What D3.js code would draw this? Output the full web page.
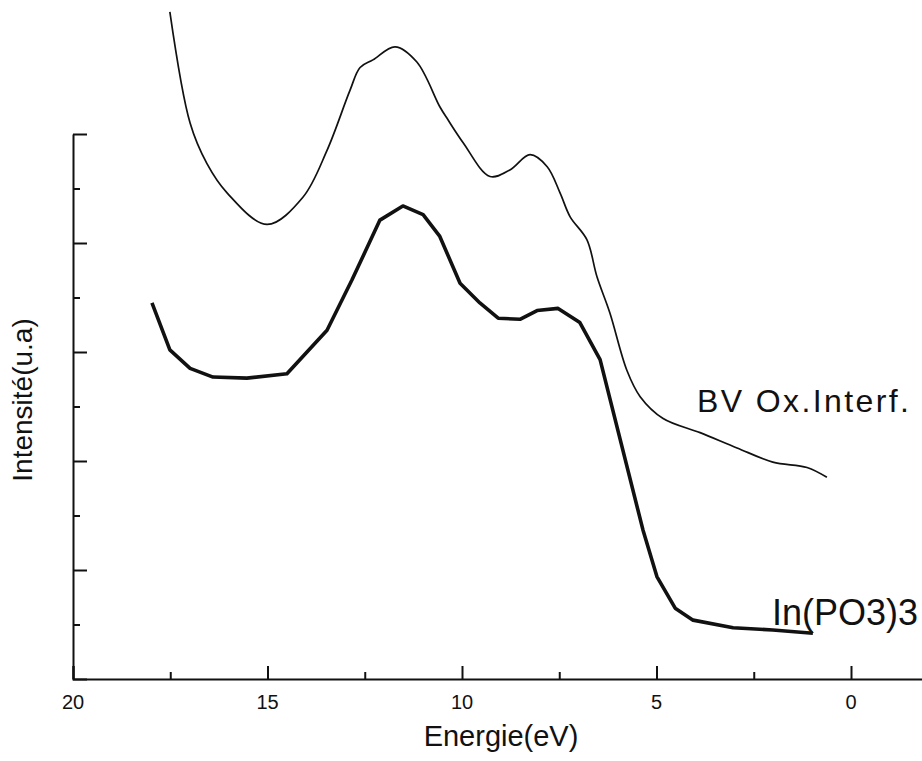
<!DOCTYPE html>
<html>
<head>
<meta charset="utf-8">
<script src="https://cdn.jsdelivr.net/npm/d3@7"></script>
<style>
  body { margin: 0; background: #fff; }
  text { font-family: "Liberation Sans", Arial, sans-serif; fill: #111; }
</style>
</head>
<body>
<div id="chart"></div>
<script>
const width = 922;
const height = 761;

// energies (eV) and intensities (arb. units)
const bvEnergy = [17.51, 16.99, 16.56, 16.04, 15.01, 14.09, 13.47, 12.88, 12.62, 12.29, 11.72, 11.16, 10.57, 10.36, 9.97, 9.28, 8.77, 8.25, 7.81, 7.48, 7.22, 6.79, 6.53, 6.20, 5.76, 5.42, 4.83, 3.88, 2.93, 2.01, 1.13, 0.62];
const bvIntensity = [6.12, 5.10, 4.73, 4.46, 4.17, 4.42, 4.85, 5.40, 5.61, 5.68, 5.80, 5.66, 5.25, 5.13, 4.92, 4.61, 4.67, 4.81, 4.70, 4.46, 4.24, 4.03, 3.69, 3.36, 2.83, 2.59, 2.39, 2.26, 2.12, 1.99, 1.94, 1.85];

const inEnergy = [17.97, 17.51, 16.99, 16.40, 15.53, 14.50, 13.47, 12.83, 12.11, 11.52, 11.00, 10.57, 10.05, 9.54, 9.07, 8.51, 8.07, 7.53, 6.97, 6.45, 5.35, 4.99, 4.52, 4.06, 3.03, 2.01, 0.98];
const inIntensity = [3.45, 3.02, 2.85, 2.77, 2.76, 2.80, 3.20, 3.66, 4.21, 4.34, 4.26, 4.06, 3.63, 3.45, 3.31, 3.30, 3.38, 3.40, 3.27, 2.93, 1.37, 0.94, 0.65, 0.54, 0.47, 0.45, 0.42];

const xMajor = [20, 15, 10, 5, 0];
const xMinor = [17.5, 12.5, 7.5, 2.5];
const yMajor = [0, 1, 2, 3, 4, 5];
const yMinor = [0.5, 1.5, 2.5, 3.5, 4.5];

const margins = {top: 134, left: 73, bottom: 82};

const svg = d3.select("#chart")
  .append("svg")
  .attr("width", width)
  .attr("height", height);

const xScale = d3.scaleLinear()
  .domain([20, -2])
  .range([margins.left, margins.left + 22 * 38.9]);

const yScale = d3.scaleLinear()
  .domain([0, 5])
  .range([height - margins.bottom, margins.top]);

// bottom axis, ticks pointing inward
const xAxisG = svg.append("g")
  .attr("transform", "translate(0," + yScale(0) + ")")
  .call(d3.axisTop(xScale).tickValues(xMajor).tickSize(13).tickFormat(""));
xAxisG.append("g")
  .call(d3.axisTop(xScale).tickValues(xMinor).tickSize(7).tickFormat(""))
  .select(".domain").remove();

// left axis, ticks pointing inward
const yAxisG = svg.append("g")
  .attr("transform", "translate(" + margins.left + ",0)")
  .call(d3.axisRight(yScale).tickValues(yMajor).tickSize(14).tickFormat("").tickSizeOuter(0));
yAxisG.append("g")
  .call(d3.axisRight(yScale).tickValues(yMinor).tickSize(7).tickFormat(""))
  .select(".domain").remove();

svg.selectAll(".domain").attr("stroke", "#111").attr("stroke-width", 2);
svg.selectAll(".tick line").attr("stroke", "#111").attr("stroke-width", 2);

// tick labels
svg.append("g")
  .selectAll("text")
  .data(xMajor)
  .join("text")
  .attr("x", d => xScale(d))
  .attr("y", 709)
  .attr("text-anchor", "middle")
  .attr("font-size", "20px")
  .text(d => d);

// axis titles
svg.append("text")
  .attr("x", 501)
  .attr("y", 746)
  .attr("text-anchor", "middle")
  .attr("font-size", "29px")
  .text("Energie(eV)");

svg.append("text")
  .attr("transform", "translate(32,400) rotate(-90)")
  .attr("text-anchor", "middle")
  .attr("font-size", "28px")
  .text("Intensité(u.a)");

// curves
const bvLine = d3.line()
  .x(i => xScale(bvEnergy[i]))
  .y(i => yScale(bvIntensity[i]))
  .curve(d3.curveCatmullRom);

const inLine = d3.line()
  .x(i => xScale(inEnergy[i]))
  .y(i => yScale(inIntensity[i]));

svg.append("path")
  .attr("d", bvLine(d3.range(bvEnergy.length)))
  .attr("fill", "none")
  .attr("stroke", "#111")
  .attr("stroke-width", 1.7);

svg.append("path")
  .attr("d", inLine(d3.range(inEnergy.length)))
  .attr("fill", "none")
  .attr("stroke", "#111")
  .attr("stroke-width", 3.6)
  .attr("stroke-linejoin", "round");

// curve labels
svg.append("text")
  .attr("x", 697)
  .attr("y", 412)
  .attr("font-size", "32px")
  .attr("letter-spacing", "2.4px")
  .text("BV Ox.Interf.");

svg.append("text")
  .attr("x", 772)
  .attr("y", 625)
  .attr("font-size", "36px")
  .text("In(PO3)3");
</script>
</body>
</html>
